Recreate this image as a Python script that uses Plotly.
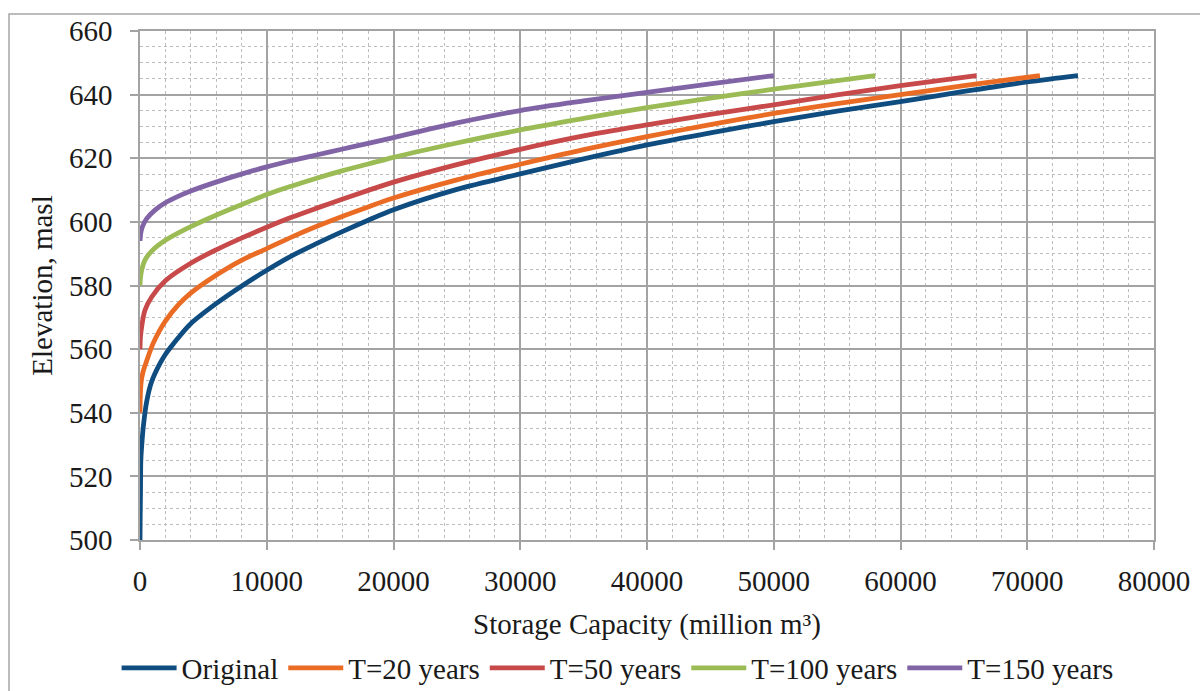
import plotly.graph_objects as go

# ---- data ----
orig_x = [0, 15, 40, 65, 150, 260, 526, 920, 1580, 2000, 2500, 3000, 4000, 6000, 8000, 10000, 12000, 14000,
          16000, 18000, 20000, 25000, 30000, 35000, 40000, 45000, 50000, 55000, 60000, 65000, 70000, 74000]
orig_y = [500, 508, 516, 525, 530.5, 535.6, 543.5, 549.8, 555.5, 558.3, 561, 563.5, 568, 574.3, 579.8, 584.8, 589.4, 593.3,
          597.0, 600.5, 603.8, 610.2, 615.1, 619.8, 624.2, 628, 631.5, 634.8, 637.8, 641, 644, 646]

t20_x = [0, 30, 100, 250, 500, 1000, 1500, 2000, 3000, 4000, 6000, 8000, 10000, 12000, 14000, 16000, 18000,
         20000, 25000, 30000, 35000, 40000, 45000, 50000, 55000, 60000, 65000, 71000]
t20_y = [540, 546, 550, 553, 556, 561.5, 565.5, 568.8, 573.8, 577.6, 583.2, 587.9, 591.6, 595.3, 598.7, 601.8, 604.7,
         607.5, 613.2, 618.1, 622.7, 626.8, 630.6, 634.1, 637.2, 640, 642.8, 646]

t50_x = [0, 40, 130, 390, 920, 2000, 4000, 6000, 8000, 10000, 12000, 14000, 16000, 18000, 20000,
         25000, 30000, 35000, 40000, 45000, 50000, 55000, 60000, 66000]
t50_y = [560, 564, 567, 572.2, 576.4, 581.5, 587.0, 591.2, 594.9, 598.3, 601.5, 604.4, 607.2, 609.9, 612.5,
         618, 622.8, 627, 630.5, 633.8, 636.8, 639.9, 642.8, 646]

t100_x = [0, 40, 130, 390, 920, 2000, 4000, 6000, 8000, 10000, 12000, 14000, 16000, 18000, 20000,
          25000, 30000, 35000, 40000, 45000, 50000, 55000, 58000]
t100_y = [580, 582.5, 584.8, 588, 590.8, 594.2, 598.5, 602.1, 605.4, 608.6, 611.3, 613.8, 616.1, 618.2, 620.3,
          624.8, 628.9, 632.5, 635.9, 638.9, 641.7, 644.4, 646]

t150_x = [0, 60, 184, 526, 1180, 2000, 3000, 4000, 6000, 8000, 10000, 12000, 14000, 16000, 18000, 20000,
          25000, 30000, 35000, 40000, 45000, 50000]
t150_y = [594, 596.5, 598.4, 601, 603.7, 606, 608, 609.7, 612.5, 615, 617.3, 619.3, 621.1, 622.9, 624.7, 626.5,
          631.1, 635, 638, 640.7, 643.4, 646]

series_names = ["Original", "T=20 years", "T=50 years", "T=100 years", "T=150 years"]
series_x = [orig_x, t20_x, t50_x, t100_x, t150_x]
series_y = [orig_y, t20_y, t50_y, t100_y, t150_y]
series_colors = ["#0F4C7F", "#EA6B24", "#C8494A", "#9BBB55", "#8064A6"]

x_title = "Storage Capacity (million m³)"
y_title = "Elevation, masl"

FONT = "Liberation Serif, Times New Roman, serif"
FS = 29
TXT = "#1a1a1a"
GRID = "#A3A3A3"
MINOR = "#BDBDBD"

fig = go.Figure()
for name, xs, ys, col in zip(series_names, series_x, series_y, series_colors):
    fig.add_trace(go.Scatter(x=xs, y=ys, mode="lines", name=name,
                             line=dict(color=col, width=4.8, shape="spline", smoothing=0.9)))

fig.update_layout(
    width=1200, height=691,
    margin=dict(l=140, r=46, t=31, b=151, autoexpand=False),
    paper_bgcolor="white", plot_bgcolor="white",
    font=dict(family=FONT, size=FS, color=TXT),
    showlegend=True,
    legend=dict(orientation="h", x=0.471, xanchor="center", y=-0.2515, yanchor="middle",
                font=dict(family=FONT, size=FS, color=TXT), itemwidth=55,
                bgcolor="rgba(0,0,0,0)", tracegroupgap=0),
    shapes=[dict(type="rect", xref="paper", yref="paper",
                 x0=-0.1292, x1=1.2, y0=-0.5, y1=1.0334,
                 line=dict(color="#A6A6A6", width=1.5), layer="below")],
)

fig.update_xaxes(
    range=[0, 80000], dtick=10000, tick0=0, tickformat="d",
    showgrid=True, gridcolor=GRID, gridwidth=1.5,
    minor=dict(dtick=2000, showgrid=True, gridcolor=MINOR, griddash="dot", gridwidth=1.2),
    showline=True, linecolor=GRID, linewidth=1.5, mirror=True,
    ticks="outside", ticklen=8, tickcolor=GRID, tickwidth=1.5,
    zeroline=False, ticklabelstandoff=6, automargin=False,
    tickfont=dict(family=FONT, size=FS, color=TXT),
    title=dict(text=x_title, font=dict(family=FONT, size=FS, color=TXT), standoff=18),
)
fig.update_yaxes(
    range=[500, 660], dtick=20, tick0=500,
    showgrid=True, gridcolor=GRID, gridwidth=1.5,
    minor=dict(dtick=5, showgrid=True, gridcolor=MINOR, griddash="dot", gridwidth=1.2),
    showline=True, linecolor=GRID, linewidth=1.5, mirror=True,
    ticks="outside", ticklen=8, tickcolor=GRID, tickwidth=1.5,
    zeroline=False, ticklabelstandoff=12, automargin=False,
    tickfont=dict(family=FONT, size=FS, color=TXT),
    title=dict(text=y_title, font=dict(family=FONT, size=FS, color=TXT), standoff=8),
)

fig.write_html("out.html")
